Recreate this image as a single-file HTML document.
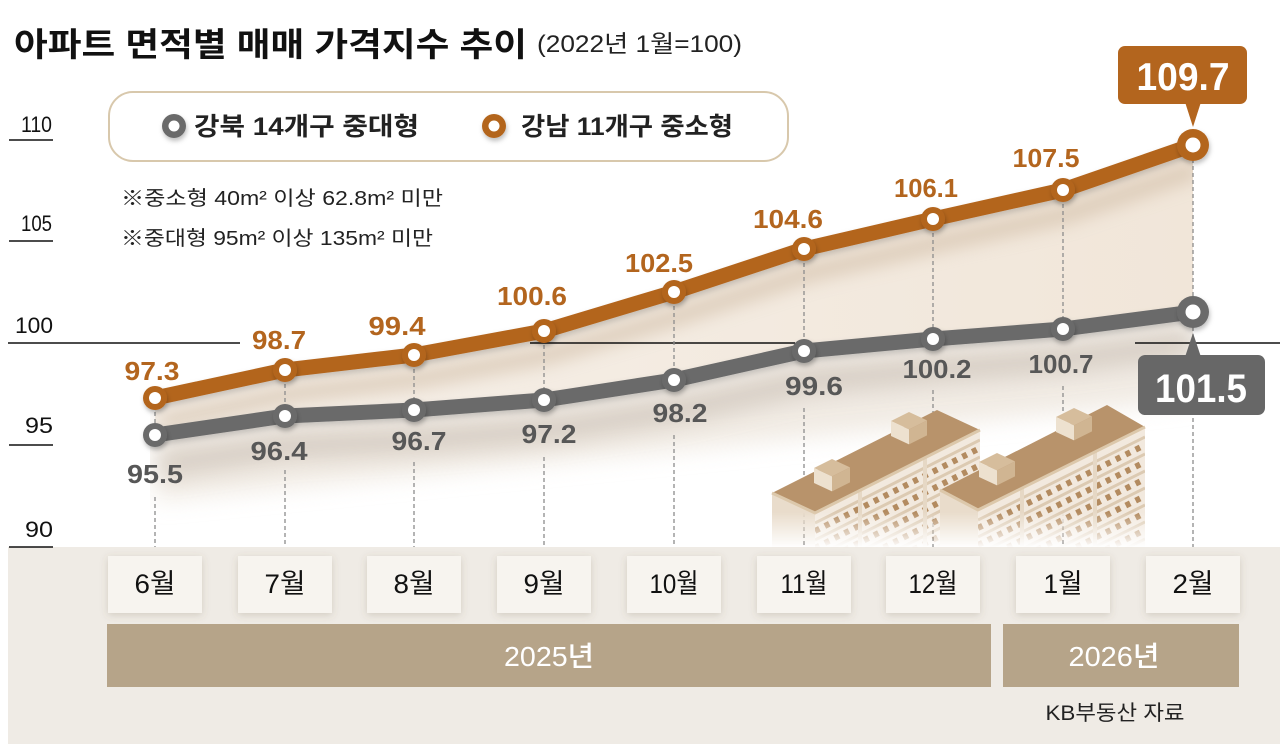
<!DOCTYPE html>
<html><head><meta charset="utf-8">
<style>
html,body{margin:0;padding:0;background:#fff;}
svg{display:block;}
text{font-family:"Liberation Sans","Noto Sans CJK KR",sans-serif;}
</style></head><body>
<svg width="1280" height="744" viewBox="0 0 1280 744" xmlns="http://www.w3.org/2000/svg">
<defs>
  <filter id="blur9" x="-20%" y="-60%" width="140%" height="220%"><feGaussianBlur stdDeviation="9"/></filter>
  <filter id="blur12" x="-20%" y="-60%" width="140%" height="220%"><feGaussianBlur stdDeviation="12"/></filter>
  <filter id="ds" x="-50%" y="-50%" width="200%" height="200%"><feDropShadow dx="1" dy="3" stdDeviation="2.5" flood-color="#000" flood-opacity="0.25"/></filter>
  <filter id="lds" x="-5%" y="-30%" width="110%" height="160%"><feDropShadow dx="1" dy="3" stdDeviation="3" flood-color="#000" flood-opacity="0.18"/></filter>
  <filter id="bs" x="-20%" y="-30%" width="140%" height="160%"><feDropShadow dx="0" dy="2" stdDeviation="4" flood-color="#6b5a40" flood-opacity="0.22"/></filter>
  <linearGradient id="areag" x1="155" y1="0" x2="1193" y2="0" gradientUnits="userSpaceOnUse">
    <stop offset="0" stop-color="#f6f0e9"/>
    <stop offset="1" stop-color="#f1e6d9"/>
  </linearGradient>
  <linearGradient id="fadeg" x1="0" y1="512" x2="0" y2="548" gradientUnits="userSpaceOnUse">
    <stop offset="0" stop-color="#fff"/>
    <stop offset="1" stop-color="#000"/>
  </linearGradient>
  <mask id="bmask" maskUnits="userSpaceOnUse" x="740" y="380" width="440" height="175">
    <rect x="740" y="380" width="440" height="175" fill="url(#fadeg)"/>
  </mask>
  <clipPath id="plotclip"><rect x="150" y="100" width="1043" height="447"/></clipPath>
  <clipPath id="f1"><polygon points="815,513 980,430 980,550 815,550"/></clipPath>
  <clipPath id="f2"><polygon points="978,510 1145,427 1145,550 978,550"/></clipPath>
</defs>

<rect x="0" y="0" width="1280" height="744" fill="#fff"/>

<!-- area fill & shadows -->
<g clip-path="url(#plotclip)">
  <polygon points="155,435 285,416 414,410 544,400 674,380 804,351 933,339 1063,329 1193,312 1193,400 155,500" fill="#ece4da" opacity="0.75" filter="url(#blur12)"/>
  <polygon points="155,398 285,370 414,355 544,331 674,292 804,249 933,219 1063,190 1193,145 1193,312 1063,329 933,339 804,351 674,380 544,400 414,410 285,416 155,435" fill="url(#areag)"/>
  <path d="M155,398 L285,370 L414,355 L544,331 L674,292 L804,249 L933,219 L1063,190 L1193,145" transform="translate(4,24)" fill="none" stroke="#c9b39a" stroke-width="16" opacity="0.6" filter="url(#blur9)"/>
  <path d="M155,435 L285,416 L414,410 L544,400 L674,380 L804,351 L933,339 L1063,329 L1193,312" transform="translate(4,30)" fill="none" stroke="#c2b7ab" stroke-width="22" opacity="0.65" filter="url(#blur12)"/>
</g>

<!-- bottom background -->
<rect x="8" y="547" width="1272" height="197" fill="#efebe5"/>

<!-- y axis -->
<g fill="#111" font-size="22">
  <text x="21" y="132" textLength="31" lengthAdjust="spacingAndGlyphs">110</text>
  <text x="21" y="231" textLength="31" lengthAdjust="spacingAndGlyphs">105</text>
  <text x="15" y="333" textLength="38" lengthAdjust="spacingAndGlyphs">100</text>
  <text x="25" y="433" textLength="28" lengthAdjust="spacingAndGlyphs">95</text>
  <text x="25" y="537" textLength="28" lengthAdjust="spacingAndGlyphs">90</text>
</g>
<g stroke="#111" stroke-width="1.6">
  <line x1="9" y1="140" x2="53" y2="140"/>
  <line x1="9" y1="241" x2="53" y2="241"/>
  <line x1="8" y1="343" x2="240" y2="343"/>
  <line x1="530" y1="343" x2="795" y2="343"/>
  <line x1="1135" y1="343" x2="1280" y2="343"/>
  <line x1="9" y1="445" x2="53" y2="445"/>
  <line x1="9" y1="547" x2="53" y2="547"/>
</g>

<!-- dashed guides -->
<g stroke="#8c8c8c" stroke-width="1.3" stroke-dasharray="4 3" fill="none">
  <path d="M155,398 V435 M155,497 V547"/>
  <path d="M285,370 V416 M285,470 V547"/>
  <path d="M414,355 V410 M414,462 V547"/>
  <path d="M544,331 V400 M544,457 V547"/>
  <path d="M674,292 V380 M674,435 V547"/>
  <path d="M804,249 V351 M804,408 V547"/>
  <path d="M933,219 V339 M933,390 V547"/>
  <path d="M1063,190 V329 M1063,386 V547"/>
  <path d="M1193,145 V547"/>
</g>

<!-- buildings -->
<g mask="url(#bmask)">
  <!-- building 1 -->
  <polygon points="772,493 815,513 815,550 772,550" fill="#e9dccb"/>
  <polygon points="815,513 980,430 980,550 815,550" fill="#f2e9de"/>
  <g clip-path="url(#f1)" fill="none">
    <g stroke="#dccab2" stroke-width="3">
      <path d="M815,523 L980,440 M815,540 L980,457 M815,557 L980,474 M815,574 L980,491 M815,591 L980,508 M815,608 L980,525 M815,625 L980,542"/>
    </g>
    <g stroke="#b38b60" stroke-width="6" stroke-dasharray="5 6">
      <path d="M815,531 L980,448 M815,548 L980,465 M815,565 L980,482 M815,582 L980,499 M815,599 L980,516 M815,616 L980,533"/>
    </g>
    <line x1="860" y1="430" x2="860" y2="550" stroke="#e6d8c5" stroke-width="4"/>
    <line x1="925" y1="430" x2="925" y2="550" stroke="#e6d8c5" stroke-width="4"/>
  </g>
  <polygon points="772,493 815,513 980,430 937,410" fill="#b8936b"/>
  <path d="M772,493 L815,513 L980,430" fill="none" stroke="#dcc8ab" stroke-width="3"/>
  <polygon points="814,468 832,476.4 850,467.4 832,459" fill="#d6bd9c"/>
  <polygon points="814,468 832,476.4 832,491.4 814,483" fill="#ede1cf"/>
  <polygon points="832,476.4 850,467.4 850,482.4 832,491.4" fill="#d0b592"/>
  <polygon points="891,421 909,429.4 927,420.4 909,412" fill="#d6bd9c"/>
  <polygon points="891,421 909,429.4 909,444.4 891,436" fill="#ede1cf"/>
  <polygon points="909,429.4 927,420.4 927,435.4 909,444.4" fill="#d0b592"/>

  <!-- building 2 -->
  <polygon points="940,490 978,510 978,550 940,550" fill="#e9dccb"/>
  <polygon points="978,510 1145,427 1145,550 978,550" fill="#f2e9de"/>
  <g clip-path="url(#f2)" fill="none">
    <g stroke="#dccab2" stroke-width="3">
      <path d="M978,520 L1145,437 M978,537 L1145,454 M978,554 L1145,471 M978,571 L1145,488 M978,588 L1145,505 M978,605 L1145,522 M978,622 L1145,539"/>
    </g>
    <g stroke="#b38b60" stroke-width="6" stroke-dasharray="5 6">
      <path d="M978,528 L1145,445 M978,545 L1145,462 M978,562 L1145,479 M978,579 L1145,496 M978,596 L1145,513 M978,613 L1145,530"/>
    </g>
    <line x1="1022" y1="430" x2="1022" y2="550" stroke="#e6d8c5" stroke-width="4"/>
    <line x1="1095" y1="430" x2="1095" y2="550" stroke="#e6d8c5" stroke-width="4"/>
  </g>
  <polygon points="940,490 978,510 1145,427 1107,405" fill="#b8936b"/>
  <path d="M940,490 L978,510 L1145,427" fill="none" stroke="#dcc8ab" stroke-width="3"/>
  <polygon points="979,462 997,470.4 1015,461.4 997,453" fill="#d6bd9c"/>
  <polygon points="979,462 997,470.4 997,485.4 979,477" fill="#ede1cf"/>
  <polygon points="997,470.4 1015,461.4 1015,476.4 997,485.4" fill="#d0b592"/>
  <polygon points="1056,417 1074,425.4 1092,416.4 1074,408" fill="#d6bd9c"/>
  <polygon points="1056,417 1074,425.4 1074,440.4 1056,432" fill="#ede1cf"/>
  <polygon points="1074,425.4 1092,416.4 1092,431.4 1074,440.4" fill="#d0b592"/>
</g>

<!-- series lines -->
<path d="M155,435 L285,416 L414,410 L544,400 L674,380 L804,351 L933,339 L1063,329 L1193,312" fill="none" stroke="#6a6a6a" stroke-width="15" stroke-linejoin="round" stroke-linecap="round" filter="url(#lds)"/>
<path d="M155,398 L285,370 L414,355 L544,331 L674,292 L804,249 L933,219 L1063,190 L1193,145" fill="none" stroke="#b3651e" stroke-width="15" stroke-linejoin="round" stroke-linecap="round" filter="url(#lds)"/>

<!-- markers -->
<g fill="#6a6a6a" filter="url(#ds)">
  <circle cx="155" cy="435" r="12"/><circle cx="285" cy="416" r="12"/><circle cx="414" cy="410" r="12"/>
  <circle cx="544" cy="400" r="12"/><circle cx="674" cy="380" r="12"/><circle cx="804" cy="351" r="12"/>
  <circle cx="933" cy="339" r="12"/><circle cx="1063" cy="329" r="12"/><circle cx="1193" cy="312" r="16"/>
</g>
<g fill="#b3651e" filter="url(#ds)">
  <circle cx="155" cy="398" r="12"/><circle cx="285" cy="370" r="12"/><circle cx="414" cy="355" r="12"/>
  <circle cx="544" cy="331" r="12"/><circle cx="674" cy="292" r="12"/><circle cx="804" cy="249" r="12"/>
  <circle cx="933" cy="219" r="12"/><circle cx="1063" cy="190" r="12"/><circle cx="1193" cy="145" r="16"/>
</g>
<g fill="#fff">
  <circle cx="155" cy="435" r="6"/><circle cx="285" cy="416" r="6"/><circle cx="414" cy="410" r="6"/>
  <circle cx="544" cy="400" r="6"/><circle cx="674" cy="380" r="6"/><circle cx="804" cy="351" r="6"/>
  <circle cx="933" cy="339" r="6"/><circle cx="1063" cy="329" r="6"/><circle cx="1193" cy="312" r="7.5"/>
  <circle cx="155" cy="398" r="6"/><circle cx="285" cy="370" r="6"/><circle cx="414" cy="355" r="6"/>
  <circle cx="544" cy="331" r="6"/><circle cx="674" cy="292" r="6"/><circle cx="804" cy="249" r="6"/>
  <circle cx="933" cy="219" r="6"/><circle cx="1063" cy="190" r="6"/><circle cx="1193" cy="145" r="7.5"/>
</g>

<!-- labels orange -->
<g fill="#b3651e" font-size="26" font-weight="700" text-anchor="middle">
  <text x="152" y="380" textLength="55" lengthAdjust="spacingAndGlyphs">97.3</text>
  <text x="279" y="349" textLength="54" lengthAdjust="spacingAndGlyphs">98.7</text>
  <text x="397" y="335" textLength="57" lengthAdjust="spacingAndGlyphs">99.4</text>
  <text x="532" y="305" textLength="70" lengthAdjust="spacingAndGlyphs">100.6</text>
  <text x="659" y="272" textLength="68" lengthAdjust="spacingAndGlyphs">102.5</text>
  <text x="788" y="228" textLength="70" lengthAdjust="spacingAndGlyphs">104.6</text>
  <text x="926" y="197" textLength="64" lengthAdjust="spacingAndGlyphs">106.1</text>
  <text x="1046" y="167" textLength="67" lengthAdjust="spacingAndGlyphs">107.5</text>
</g>
<!-- labels gray -->
<g fill="#575757" font-size="26" font-weight="700" text-anchor="middle">
  <text x="155" y="483" textLength="56" lengthAdjust="spacingAndGlyphs">95.5</text>
  <text x="279" y="460" textLength="57" lengthAdjust="spacingAndGlyphs">96.4</text>
  <text x="419" y="450" textLength="55" lengthAdjust="spacingAndGlyphs">96.7</text>
  <text x="549" y="443" textLength="55" lengthAdjust="spacingAndGlyphs">97.2</text>
  <text x="680" y="422" textLength="55" lengthAdjust="spacingAndGlyphs">98.2</text>
  <text x="814" y="395" textLength="58" lengthAdjust="spacingAndGlyphs">99.6</text>
  <text x="937" y="378" textLength="69" lengthAdjust="spacingAndGlyphs">100.2</text>
  <text x="1061" y="373" textLength="65" lengthAdjust="spacingAndGlyphs">100.7</text>
</g>

<!-- callouts -->
<rect x="1118" y="46" width="129" height="58" rx="7" fill="#b3651e"/>
<polygon points="1185,102 1201,102 1193,127" fill="#b3651e"/>
<text x="1183" y="90" fill="#fff" font-size="39" font-weight="700" text-anchor="middle" textLength="93" lengthAdjust="spacingAndGlyphs">109.7</text>
<rect x="1138" y="355" width="127" height="60" rx="7" fill="#676767"/>
<polygon points="1185,357 1201,357 1193,333" fill="#676767"/>
<text x="1201" y="402" fill="#fff" font-size="40" font-weight="700" text-anchor="middle" textLength="92" lengthAdjust="spacingAndGlyphs">101.5</text>

<!-- title -->
<text x="14" y="56" font-size="33" font-weight="700" fill="#111" textLength="513" lengthAdjust="spacingAndGlyphs">아파트 면적별 매매 가격지수 추이</text>
<text x="537" y="52" font-size="24" fill="#222" textLength="205" lengthAdjust="spacingAndGlyphs">(2022년 1월=100)</text>

<!-- legend -->
<rect x="109" y="92" width="679" height="69" rx="24" fill="#fff" stroke="#d8c8ac" stroke-width="2"/>
<circle cx="174" cy="126" r="12" fill="#6a6a6a" filter="url(#ds)"/>
<circle cx="174" cy="126" r="5.5" fill="#fff"/>
<text x="194" y="135" font-size="25" font-weight="700" fill="#222" textLength="225" lengthAdjust="spacingAndGlyphs">강북 14개구 중대형</text>
<circle cx="494" cy="126" r="12" fill="#b3651e" filter="url(#ds)"/>
<circle cx="494" cy="126" r="5.5" fill="#fff"/>
<text x="521" y="135" font-size="25" font-weight="700" fill="#222" textLength="212" lengthAdjust="spacingAndGlyphs">강남 11개구 중소형</text>

<!-- notes -->
<text x="121" y="205" font-size="20" fill="#222" textLength="322" lengthAdjust="spacingAndGlyphs">※중소형 40m² 이상 62.8m² 미만</text>
<text x="121" y="245" font-size="20" fill="#222" textLength="312" lengthAdjust="spacingAndGlyphs">※중대형 95m² 이상 135m² 미만</text>

<!-- month boxes -->
<g fill="#f7f4ef" filter="url(#bs)">
  <rect x="108" y="556" width="94" height="57"/>
  <rect x="238" y="556" width="94" height="57"/>
  <rect x="367" y="556" width="94" height="57"/>
  <rect x="497" y="556" width="94" height="57"/>
  <rect x="627" y="556" width="94" height="57"/>
  <rect x="757" y="556" width="94" height="57"/>
  <rect x="886" y="556" width="94" height="57"/>
  <rect x="1016" y="556" width="94" height="57"/>
  <rect x="1146" y="556" width="94" height="57"/>
</g>
<g fill="#111" font-size="27" text-anchor="middle">
  <text x="155" y="593" textLength="41" lengthAdjust="spacingAndGlyphs">6월</text>
  <text x="285" y="593" textLength="41" lengthAdjust="spacingAndGlyphs">7월</text>
  <text x="414" y="593" textLength="41" lengthAdjust="spacingAndGlyphs">8월</text>
  <text x="544" y="593" textLength="41" lengthAdjust="spacingAndGlyphs">9월</text>
  <text x="674" y="593" textLength="49" lengthAdjust="spacingAndGlyphs">10월</text>
  <text x="804" y="593" textLength="47" lengthAdjust="spacingAndGlyphs">11월</text>
  <text x="933" y="593" textLength="49" lengthAdjust="spacingAndGlyphs">12월</text>
  <text x="1063" y="593" textLength="39" lengthAdjust="spacingAndGlyphs">1월</text>
  <text x="1193" y="593" textLength="41" lengthAdjust="spacingAndGlyphs">2월</text>
</g>

<!-- year bars -->
<rect x="107" y="624" width="884" height="63" fill="#b6a489"/>
<rect x="1003" y="624" width="236" height="63" fill="#b6a489"/>
<text x="549" y="666" fill="#fff" font-size="28" font-weight="500" text-anchor="middle" textLength="90" lengthAdjust="spacingAndGlyphs">2025년</text>
<text x="1114" y="666" fill="#fff" font-size="28" font-weight="500" text-anchor="middle" textLength="91" lengthAdjust="spacingAndGlyphs">2026년</text>

<text x="1115" y="720" fill="#222" font-size="21" text-anchor="middle" textLength="139" lengthAdjust="spacingAndGlyphs">KB부동산 자료</text>
</svg>
</body></html>
